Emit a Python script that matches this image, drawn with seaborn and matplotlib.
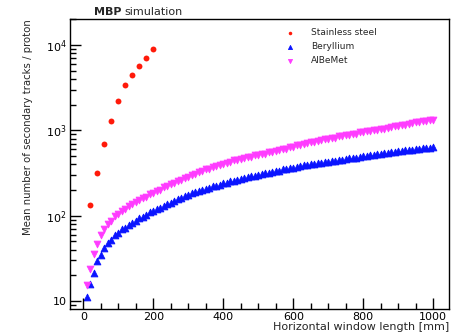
import numpy as np
import pandas as pd
import matplotlib
matplotlib.use("Agg")
import matplotlib.pyplot as plt
from matplotlib.ticker import MultipleLocator, LogLocator, NullFormatter, FixedLocator, FixedFormatter
import seaborn as sns

# Stainless steel window (sparse scan)
steel_mm = [20, 40, 60, 80, 100, 120, 140, 160, 180, 200]
steel_tracks = [135, 320, 700, 1280, 2190, 3370, 4410, 5630, 6980, 8900]

# Beryllium and AlBeMet windows, 10 mm steps from 10 to 1000 mm
window_mm = np.arange(10, 1001, 10)
beryllium_tracks = [
    11.0, 15.8, 21.5, 29.2, 34.6, 41.5, 47.8, 52.0, 58.9, 62.4,
    68.9, 72.1, 78.6, 82.5, 87.0, 94.1, 97.2, 102.5, 109.8, 113.0,
    120.4, 124.1, 129.8, 137.5, 141.2, 148.0, 156.8, 160.7, 169.5, 175.0,
    183.4, 187.2, 192.1, 201.6, 205.3, 211.0, 220.2, 224.1, 229.8, 239.6,
    243.0, 251.8, 255.2, 261.0, 270.4, 274.1, 280.2, 290.3, 292.8, 301.5,
    306.0, 315.2, 318.7, 327.9, 331.8, 338.0, 348.6, 350.9, 360.4, 364.1,
    373.9, 377.5, 387.6, 391.2, 401.8, 404.5, 414.9, 417.6, 427.3, 430.8,
    439.9, 442.6, 453.1, 455.2, 464.8, 468.3, 478.0, 480.1, 490.6, 494.2,
    500.3, 510.8, 513.5, 522.7, 526.1, 537.4, 540.2, 550.8, 555.3, 566.9,
    570.4, 581.2, 584.5, 595.8, 599.0, 610.3, 614.2, 625.6, 629.1, 639.5,
]
albemet_tracks = [
    15.2, 23.6, 35.8, 47.1, 59.6, 69.2, 80.3, 87.4, 98.2, 104.1,
    114.0, 119.8, 130.2, 135.6, 146.3, 151.8, 161.5, 166.9, 177.6, 183.8,
    195.7, 201.4, 214.8, 220.3, 234.0, 240.9, 256.1, 263.5, 279.4, 287.6,
    303.2, 309.5, 325.7, 331.0, 347.9, 353.2, 369.8, 377.1, 394.6, 401.8,
    419.3, 424.5, 443.7, 447.9, 464.2, 469.8, 486.5, 491.2, 509.7, 512.4,
    531.6, 534.9, 553.8, 557.3, 576.4, 581.0, 604.2, 609.5, 634.0, 640.1,
    664.5, 672.8, 697.4, 702.9, 729.1, 733.6, 759.3, 763.8, 790.2, 794.6,
    819.7, 824.3, 850.8, 854.6, 881.2, 886.7, 912.4, 918.0, 945.3, 949.8,
    976.1, 982.5, 1011.0, 1014.6, 1044.3, 1049.8, 1079.2, 1085.5, 1116.0, 1124.7,
    1156.2, 1163.8, 1196.5, 1205.1, 1238.7, 1245.3, 1281.0, 1289.6, 1325.2, 1338.0,
]

x_ticks = [0, 200, 400, 600, 800, 1000]
x_tick_labels = ["0", "200", "400", "600", "800", "1000"]
y_ticks = [10, 100, 1000, 10000]
y_tick_labels = ["10", r"$10^{2}$", r"$10^{3}$", r"$10^{4}$"]

sns.set_style("ticks")
plt.rcParams.update({
    "font.family": ["DejaVu Sans"],
    "mathtext.fontset": "dejavusans",
    "axes.edgecolor": "black",
    "axes.linewidth": 1.0,
    "axes.axisbelow": False,
    "xtick.direction": "in",
    "ytick.direction": "in",
    "xtick.color": "black",
    "ytick.color": "black",
    "xtick.bottom": True,
    "ytick.left": True,
    "xtick.top": False,
    "ytick.right": False,
    "xtick.major.size": 8,
    "ytick.major.size": 8,
    "xtick.minor.size": 4.5,
    "ytick.minor.size": 4.5,
    "xtick.major.width": 1.0,
    "ytick.major.width": 1.0,
    "xtick.minor.width": 1.0,
    "ytick.minor.width": 1.0,
    "xtick.major.pad": 2.5,
    "ytick.major.pad": 2.5,
    "xtick.labelsize": 8,
    "ytick.labelsize": 8,
})

W, H = 452, 336
fig = plt.figure(figsize=(W / 100, H / 100), dpi=100)
ax = fig.add_axes([70 / W, 1 - 309 / H, (449 - 70) / W, (309 - 19) / H])

steel = pd.DataFrame({"mm": steel_mm, "tracks": steel_tracks})
be = pd.DataFrame({"mm": window_mm, "tracks": beryllium_tracks})
abm = pd.DataFrame({"mm": window_mm, "tracks": albemet_tracks})

sns.scatterplot(data=steel, x="mm", y="tracks", ax=ax, marker="o", s=18,
                color="#ff1a0a", linewidth=0, label="Stainless steel")
sns.scatterplot(data=be, x="mm", y="tracks", ax=ax, marker="^", s=24,
                color="#0a14ff", edgecolor="#0a14ff", linewidth=0.6, label="Beryllium")
sns.scatterplot(data=abm, x="mm", y="tracks", ax=ax, marker="v", s=24,
                color="#ff3cff", edgecolor="#ff3cff", linewidth=0.6, label="AlBeMet")

ax.set_yscale("log")
ax.yaxis.set_major_locator(FixedLocator(y_ticks))
ax.yaxis.set_major_formatter(FixedFormatter(y_tick_labels))
ax.yaxis.set_minor_locator(LogLocator(base=10, subs=range(2, 10)))
ax.yaxis.set_minor_formatter(NullFormatter())
ax.xaxis.set_major_locator(FixedLocator(x_ticks))
ax.xaxis.set_major_formatter(FixedFormatter(x_tick_labels))
ax.xaxis.set_minor_locator(MultipleLocator(50))
ax.set_xlim(-38, 1045)
ax.set_ylim(8.06, 20180)

ax.set_xlabel("Horizontal window length [mm]", loc="right", fontsize=8, labelpad=0)
ax.set_ylabel("Mean number of secondary tracks / proton", loc="top", fontsize=7.3,
              labelpad=9)

fig.text(94 / W, 1 - 12 / H, "MBP", fontsize=8, fontweight="bold", va="center")
fig.text(124 / W, 1 - 12 / H, "simulation", fontsize=8, va="center")

ax.legend(loc="upper left", bbox_to_anchor=(281 / W, 1 - 28 / H),
          bbox_transform=fig.transFigure, frameon=False, fontsize=6.5,
          borderpad=0, borderaxespad=0, handlelength=2, handletextpad=1.3,
          labelspacing=0.55, scatterpoints=1, markerscale=0.6)

fig.savefig("out.png", dpi=100)
